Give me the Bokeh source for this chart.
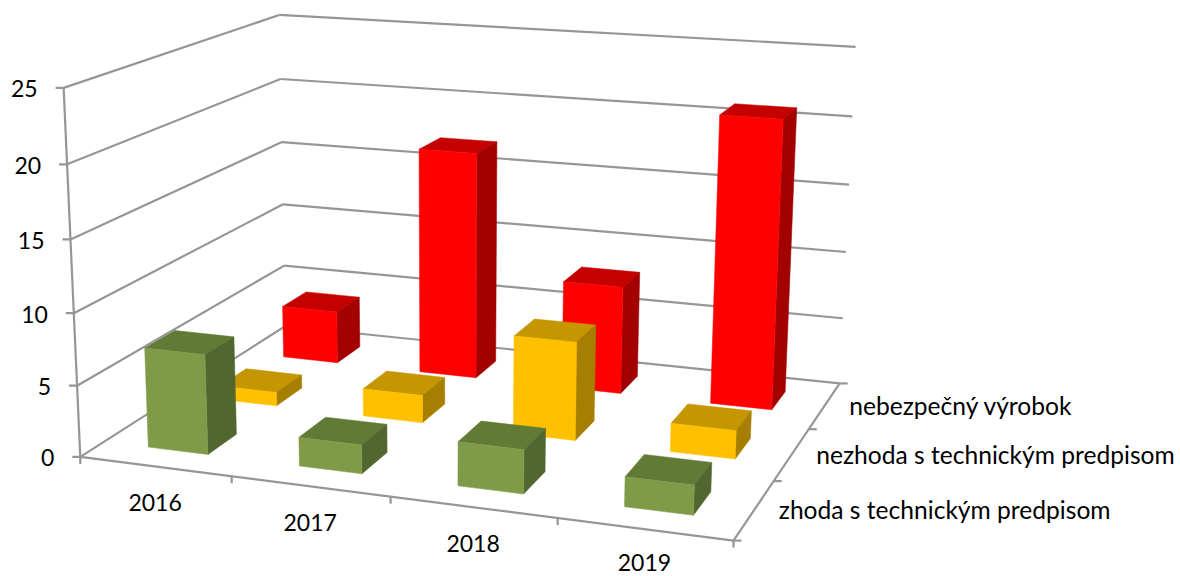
import numpy as np
from bokeh.plotting import figure
from bokeh.models import ColumnDataSource, Range1d
from bokeh.core.properties import value
from bokeh.embed import file_html
from bokeh.resources import INLINE

years = ["2016", "2017", "2018", "2019"]
series_names = ["zhoda s technickým predpisom", "nezhoda s technickým predpisom", "nebezpečný výrobok"]
zhoda = [7, 2, 3, 2]
nezhoda = [1, 2, 7, 2]
nebezpecny = [4, 17, 8, 21]
value_ticks = [0, 5, 10, 15, 20, 25]
series_values = [zhoda, nezhoda, nebezpecny]
front_colors = ["#809B48", "#FFC000", "#FF0000"]
top_colors = ["#617A35", "#C49600", "#C40000"]
side_colors = ["#52662F", "#A67F00", "#A30000"]
GRID = "#969696"
FONT = "Lato"

# camera calibration: world (category, series, value) -> picture pixel
FLOOR_CAL = [
    (0, 0, 0, 80, 456), (1, 0, 0, 231, 477), (2, 0, 0, 390, 497), (3, 0, 0, 557, 517), (4, 0, 0, 733, 540),
    (4, 3, 0, 839, 383), (0, 3, 0, 285, 325),
]
WALL_CAL = [
    (0, 0, 5, 77, 384), (0, 0, 10, 73.5, 312), (0, 0, 15, 70, 239), (0, 0, 20, 67, 163),
    (0, 0, 25, 63, 87), (0, 3, 25, 278, 15), (0, 3, 20, 280, 79), (0, 3, 15, 281, 142),
    (0, 3, 10, 282, 204), (0, 3, 5, 284, 265), (4, 3, 25, 855, 47), (4, 3, 20, 852, 116),
    (4, 3, 15, 849, 184), (4, 3, 10, 846, 251), (4, 3, 5, 843, 318),
]
CAL = FLOOR_CAL * 5 + WALL_CAL + [(4, 0, 0, 733, 540)] * 15  # the floor carries the bars, so it counts more
A = []
for X, Y, Z, px, py in CAL:
    A.append([X, Y, Z, 1, 0, 0, 0, 0, -px * X, -px * Y, -px * Z, -px])
    A.append([0, 0, 0, 0, X, Y, Z, 1, -py * X, -py * Y, -py * Z, -py])
A = np.array(A, float)
P = np.linalg.svd(A, full_matrices=False)[2][-1].reshape(3, 4)
for _ in range(8):  # reweight so that the fit minimises the error in pixels
    d = np.array([P[2] @ np.array([c[0], c[1], c[2], 1.0]) for c in CAL])
    wts = np.repeat(1 / np.abs(d), 2)
    P = np.linalg.svd(A * wts[:, None], full_matrices=False)[2][-1].reshape(3, 4)


def proj(u, v, w):
    q = P @ np.array([u, v, w, 1.0])
    return q[0] / q[2], q[1] / q[2]


W, H = 1180, 576
p = figure(width=W, height=H, x_range=Range1d(0, W), y_range=Range1d(H, 0),
           output_backend="svg", toolbar_location=None, min_border=0, outline_line_color=None)
p.xaxis.visible = False
p.yaxis.visible = False
p.xgrid.visible = False
p.ygrid.visible = False
p.background_fill_color = "white"


def polyline(pts):
    xy = [proj(*q) for q in pts]
    return [a for a, _ in xy], [b for _, b in xy]


lines_x, lines_y = [], []
for t in value_ticks[1:]:
    x, y = polyline([(0, 3, t), (4, 3, t)])
    lines_x.append(x); lines_y.append(y)
    x, y = polyline([(0, 0, t), (0, 3, t)])
    lines_x.append(x); lines_y.append(y)
x, y = polyline([(0, 0, 0), (4, 0, 0), (4, 3, 0), (0, 3, 0), (0, 0, 0)])
lines_x.append(x); lines_y.append(y)
x, y = polyline([(0, 0, 0), (0, 0, value_ticks[-1])])
lines_x.append(x); lines_y.append(y)
for t in value_ticks:
    a, b = proj(0, 0, t)
    lines_x.append([a - 8, a]); lines_y.append([b, b])
for i in range(len(years) + 1):
    a, b = proj(i, 0, 0)
    lines_x.append([a, a]); lines_y.append([b, b + 7])
for j in range(len(series_names) + 1):
    a, b = proj(4, j, 0)
    lines_x.append([a, a + 8]); lines_y.append([b, b])
p.multi_line(lines_x, lines_y, line_color=GRID, line_width=2.2)

# bars, back to front
U0, U1, V0, V1 = 0.3, 0.7, 0.3, 0.7
bx, by, bc = [], [], []
for j in reversed(range(len(series_values))):
    for i, val in enumerate(series_values[j]):
        u0, u1, v0, v1 = i + U0, i + U1, j + V0, j + V1
        faces = [
            ([(u0, v0, val), (u1, v0, val), (u1, v1, val), (u0, v1, val)], top_colors[j]),
            ([(u1, v0, 0), (u1, v1, 0), (u1, v1, val), (u1, v0, val)], side_colors[j]),
            ([(u0, v0, 0), (u1, v0, 0), (u1, v0, val), (u0, v0, val)], front_colors[j]),
        ]
        for pts, col in faces:
            x, y = polyline(pts)
            bx.append(x); by.append(y); bc.append(col)
p.patches(xs="x", ys="y", fill_color="c", line_color="c", line_width=0.5,
          source=ColumnDataSource(dict(x=bx, y=by, c=bc)))

tx = [proj(0, 0, t)[0] - 26 for t in value_ticks]
ty = [proj(0, 0, t)[1] + 1 for t in value_ticks]
p.text(tx, ty, text=[str(t) for t in value_ticks], text_align="right", text_baseline="middle",
       text_font=value(FONT), text_font_size="23px", text_color="black")
tx = [proj(i + .5, 0, 0)[0] for i in range(4)]
ty = [min(proj(i + .5, 0, 0)[1] + 36, H - 14) for i in range(4)]  # keep the lowest label inside the page
p.text(tx, ty, text=years, text_align="center", text_baseline="middle",
       text_font=value(FONT), text_font_size="23px", text_color="black")
tx = [proj(4, j + .5, 0)[0] + 24.5 for j in range(3)]
ty = [proj(4, j + .5, 0)[1] for j in range(3)]
p.text(tx, ty, text=series_names, text_align="left", text_baseline="middle",
       text_font=value(FONT), text_font_size="24.6px", text_color="black")

open("out.html", "w").write(file_html(p, INLINE))
